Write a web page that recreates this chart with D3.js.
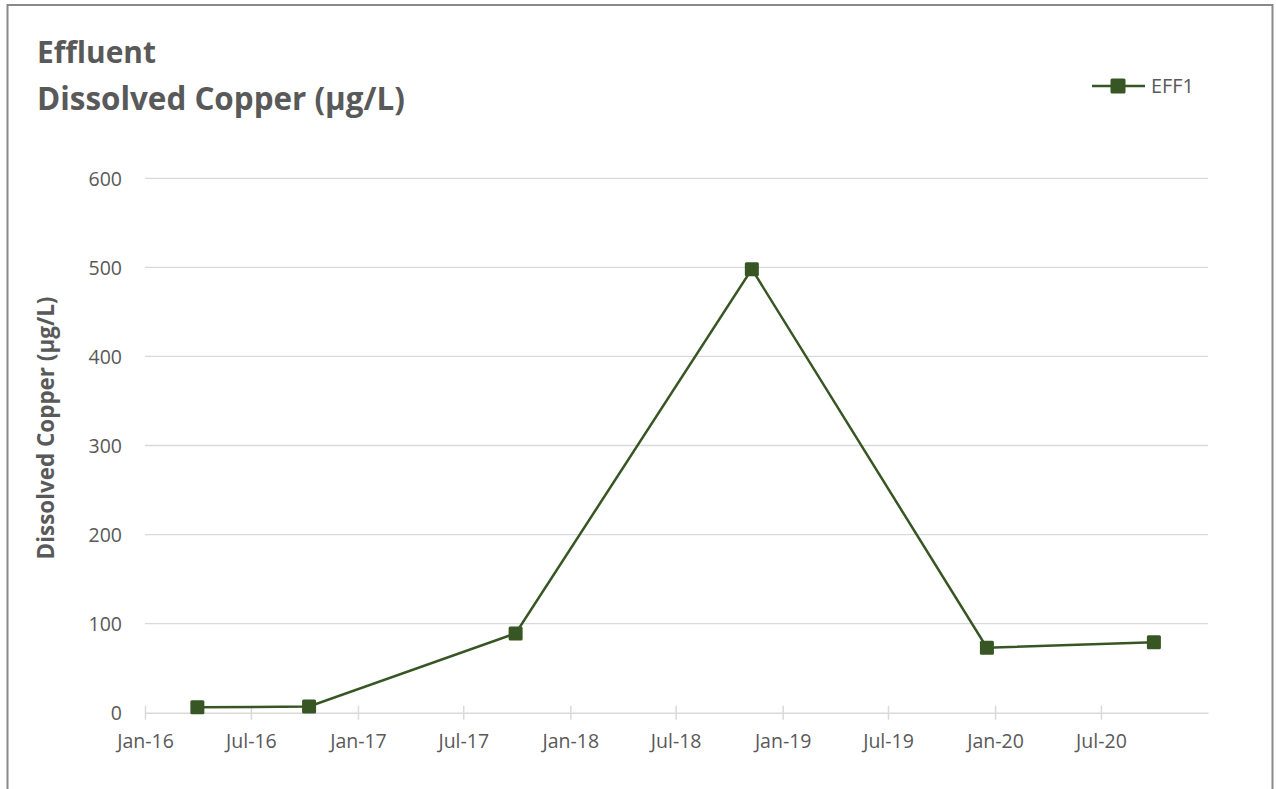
<!DOCTYPE html>
<html>
<head>
<meta charset="utf-8">
<script src="https://cdn.jsdelivr.net/npm/d3@7"></script>
<style>
  html, body { margin: 0; padding: 0; background: #fff; }
  svg { display: block; }
  text { font-family: "Open Sans", "Noto Sans", sans-serif; fill: #595959; }
</style>
</head>
<body>
<svg id="chart" width="1276" height="789"></svg>
<script>
const titleLines = ["Effluent", "Dissolved Copper (µg/L)"];
const yAxisTitle = "Dissolved Copper (µg/L)";
const seriesName = "EFF1";
const dates = ["2016-03-31", "2016-10-09", "2017-09-29", "2018-11-09", "2019-12-18", "2020-09-30"];
const values = [6, 7, 89, 498, 73, 79];
const yTicks = [0, 100, 200, 300, 400, 500, 600];
const xTickDates = ["2016-01-01","2016-07-01","2017-01-01","2017-07-01","2018-01-01","2018-07-01","2019-01-01","2019-07-01","2020-01-01","2020-07-01"];
const xDomain = ["2016-01-01", "2021-01-01"];

const parse = d3.utcParse("%Y-%m-%d");
const fmt = d3.utcFormat("%b-%y");
const data = dates.map((d, i) => ({ date: parse(d), value: values[i] }));

const svg = d3.select("#chart");
const green = "#375623";
const grid = "#d9d9d9";

function fitText(sel, targetWidth) {
  const w = sel.node().getComputedTextLength();
  const fs = parseFloat(sel.attr("font-size"));
  sel.attr("font-size", fs * targetWidth / w);
}
function fitSize(sample, weight, targetWidth) {
  const t = svg.append("text").attr("font-size", 20).attr("font-weight", weight).text(sample);
  const w = t.node().getComputedTextLength();
  t.remove();
  return 20 * targetWidth / w;
}

// chart border
svg.append("rect").attr("x", 7.5).attr("y", 5).attr("width", 1265).attr("height", 800)
  .attr("fill", "#fff").attr("stroke", "#898989").attr("stroke-width", 2);

const x = d3.scaleUtc().domain(xDomain.map(parse)).range([145, 1208]);
const y = d3.scaleLinear().domain([0, 600]).range([712.7, 178.3]);

const tickFont = Math.min(fitSize("Jan-16", "normal", 62), 19.5);

// gridlines
svg.append("g").selectAll("line").data(yTicks.filter(t => t > 0)).join("line")
  .attr("x1", 145).attr("x2", 1208)
  .attr("y1", d => y(d)).attr("y2", d => y(d))
  .attr("stroke", grid).attr("stroke-width", 1.3);

// y axis labels
const yAxis = d3.axisLeft(y).tickValues(yTicks).tickSize(0).tickPadding(0);
const gy = svg.append("g").attr("transform", "translate(122,0)").call(yAxis);
gy.select(".domain").remove();
gy.selectAll("text").attr("font-size", tickFont).attr("fill", "#595959")
  .style("font-family", '"Open Sans", sans-serif').attr("dy", "0.35em");

// x axis
const xAxis = d3.axisBottom(x).tickValues(xTickDates.map(parse).concat([parse(xDomain[1])]))
  .tickFormat(d => d.getTime() === parse(xDomain[1]).getTime() ? "" : fmt(d))
  .tickSizeInner(7).tickSizeOuter(0).tickPadding(14);
const gx = svg.append("g").attr("transform", `translate(0,${y(0)})`).call(xAxis);
gx.select(".domain").attr("stroke", grid).attr("stroke-width", 1.5);
gx.selectAll(".tick line").attr("stroke", grid).attr("stroke-width", 1.5).attr("y1", -7).attr("y2", 7);
gx.selectAll(".tick").filter(d => d.getTime() === parse(xDomain[1]).getTime()).select("line").remove();
gx.selectAll("text").attr("font-size", tickFont).attr("fill", "#595959")
  .style("font-family", '"Open Sans", sans-serif');

// line
const line = d3.line().x(d => x(d.date)).y(d => y(d.value));
svg.append("path").datum(data).attr("d", line)
  .attr("fill", "none").attr("stroke", green).attr("stroke-width", 2.5);

// markers
const ms = 14;
svg.append("g").selectAll("rect").data(data).join("rect")
  .attr("x", d => x(d.date) - ms / 2).attr("y", d => y(d.value) - ms / 2)
  .attr("width", ms).attr("height", ms).attr("rx", 1.5)
  .attr("fill", green);

// title
const t1 = svg.append("text").attr("x", 37).attr("y", 63).attr("font-size", 26)
  .attr("font-weight", "bold").text(titleLines[0]);
fitText(t1, 119);
const t2 = svg.append("text").attr("x", 37).attr("y", 110).attr("font-size", 28)
  .attr("font-weight", "bold").text(titleLines[1]);
fitText(t2, 368);

// y axis title
const yt = svg.append("text").attr("transform", "translate(54,428) rotate(-90)")
  .attr("text-anchor", "middle").attr("font-size", 18).attr("font-weight", "bold")
  .text(yAxisTitle);
fitText(yt, 263);

// legend
svg.append("line").attr("x1", 1092).attr("x2", 1145).attr("y1", 86).attr("y2", 86)
  .attr("stroke", green).attr("stroke-width", 2.5);
svg.append("rect").attr("x", 1118 - 7.5).attr("y", 86 - 7.5).attr("width", 15).attr("height", 15)
  .attr("rx", 1.5).attr("fill", green);
const lt = svg.append("text").attr("x", 1151).attr("y", 86).attr("dy", "0.35em").attr("font-size", 17)
  .text(seriesName);
fitText(lt, 43);
</script>
</body>
</html>
